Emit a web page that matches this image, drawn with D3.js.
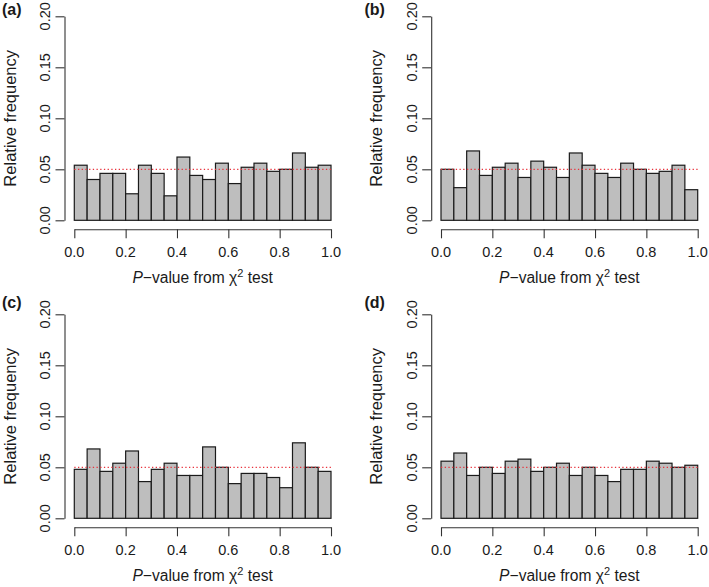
<!DOCTYPE html>
<html>
<head>
<meta charset="utf-8">
<script src="https://cdn.jsdelivr.net/npm/d3@7"></script>
<style>
  html, body { margin: 0; padding: 0; background: #fff; }
  svg { display: block; }
  text { font-family: "Liberation Sans", Arial, Helvetica, sans-serif; fill: #1a1a1a; }
</style>
</head>
<body>
<svg id="chart" width="709" height="587"></svg>
<script>
// ---- data ----
const panelLabels = ["(a)", "(b)", "(c)", "(d)"];
const binStarts = [0.00, 0.05, 0.10, 0.15, 0.20, 0.25, 0.30, 0.35, 0.40, 0.45,
                   0.50, 0.55, 0.60, 0.65, 0.70, 0.75, 0.80, 0.85, 0.90, 0.95];
const binWidth = 0.05;
const valuesA = [0.054, 0.040, 0.046, 0.046, 0.026, 0.054, 0.046, 0.024, 0.062, 0.044,
                 0.040, 0.056, 0.036, 0.052, 0.056, 0.048, 0.050, 0.066, 0.052, 0.054];
const valuesB = [0.050, 0.032, 0.068, 0.044, 0.052, 0.056, 0.042, 0.058, 0.052, 0.042,
                 0.066, 0.054, 0.046, 0.042, 0.056, 0.050, 0.046, 0.048, 0.054, 0.030];
const valuesC = [0.048, 0.068, 0.046, 0.054, 0.066, 0.036, 0.048, 0.054, 0.042, 0.042,
                 0.070, 0.050, 0.034, 0.044, 0.044, 0.040, 0.030, 0.074, 0.050, 0.046];
const valuesD = [0.056, 0.064, 0.042, 0.050, 0.044, 0.056, 0.058, 0.046, 0.050, 0.054,
                 0.042, 0.050, 0.042, 0.036, 0.048, 0.048, 0.056, 0.054, 0.050, 0.052];
const expectedValue = 0.05;
const xTicks = [0.0, 0.2, 0.4, 0.6, 0.8, 1.0];
const xTickLabels = ["0.0", "0.2", "0.4", "0.6", "0.8", "1.0"];
const yTicks = [0.00, 0.05, 0.10, 0.15, 0.20];
const yTickLabels = ["0.00", "0.05", "0.10", "0.15", "0.20"];
const yTitle = "Relative frequency";

// ---- layout ----
const allValues = [valuesA, valuesB, valuesC, valuesD];
const offsets = [[0, 0], [366.7, 0], [0, 298], [366.7, 298]];
const labelPos = [[2, 15], [364.5, 15], [2, 308], [364.5, 308]];

const svg = d3.select("#chart");

allValues.forEach((vals, i) => {
  const [dx, dy] = offsets[i];
  const g = svg.append("g").attr("transform", `translate(${dx},${dy})`);

  const x = d3.scaleLinear().domain([0, 1]).range([74.3, 331]);
  const y = d3.scaleLinear().domain([0, 0.2]).range([220.3, 16.3]);
  const yAxisX = 64.5;
  const xAxisY = 229.3;

  // bars
  g.selectAll("rect.bar")
    .data(vals.map((v, k) => ({ x0: binStarts[k], v })))
    .enter().append("rect")
    .attr("class", "bar")
    .attr("x", d => x(d.x0))
    .attr("width", d => x(d.x0 + binWidth) - x(d.x0))
    .attr("y", d => y(d.v))
    .attr("height", d => y(0) - y(d.v))
    .attr("fill", "#bebebe")
    .attr("stroke", "#1a1a1a")
    .attr("stroke-width", 1.2);

  // expected line
  g.append("line")
    .attr("x1", x(0)).attr("x2", x(1))
    .attr("y1", y(expectedValue)).attr("y2", y(expectedValue))
    .attr("stroke", "#e8323c")
    .attr("stroke-width", 1.2)
    .attr("stroke-dasharray", "1.3,2.4");

  // y axis
  const yAx = g.append("g")
    .attr("transform", `translate(${yAxisX},0)`)
    .call(d3.axisLeft(y).tickValues(yTicks).tickSize(9).tickSizeOuter(0).tickFormat(""));
  yAx.select(".domain").attr("stroke", "#333").attr("stroke-width", 1.1);
  yAx.selectAll(".tick line").attr("stroke", "#333").attr("stroke-width", 1.1);
  g.selectAll("text.ytick")
    .data(yTicks)
    .enter().append("text")
    .attr("class", "ytick")
    .attr("transform", (d) => `translate(50,${y(d)}) rotate(-90)`)
    .attr("text-anchor", "middle")
    .style("font-size", "14.5px")
    .text((d, k) => yTickLabels[k]);

  // x axis
  const xAx = g.append("g")
    .attr("transform", `translate(0,${xAxisY})`)
    .call(d3.axisBottom(x).tickValues(xTicks).tickSize(9).tickSizeOuter(0).tickFormat(""));
  xAx.select(".domain").attr("stroke", "#333").attr("stroke-width", 1.1);
  xAx.selectAll(".tick line").attr("stroke", "#333").attr("stroke-width", 1.1);
  g.selectAll("text.xtick")
    .data(xTicks)
    .enter().append("text")
    .attr("class", "xtick")
    .attr("x", d => x(d))
    .attr("y", 256.7)
    .attr("text-anchor", "middle")
    .style("font-size", "14.5px")
    .text((d, k) => xTickLabels[k]);

  // x title
  const xt = g.append("text")
    .attr("x", (x(0) + x(1)) / 2)
    .attr("y", 283)
    .attr("text-anchor", "middle")
    .style("font-size", "15.6px");
  xt.append("tspan").style("font-style", "italic").text("P");
  xt.append("tspan").text("\u2212value from \u03C7");
  xt.append("tspan").attr("dy", -6).style("font-size", "11px").text("2");
  xt.append("tspan").attr("dy", 6).text(" test");

  // y title
  g.append("text")
    .attr("transform", `translate(15.5,${(y(0) + y(0.2)) / 2}) rotate(-90)`)
    .attr("text-anchor", "middle")
    .style("font-size", "16.5px")
    .text(yTitle);

  // panel label
  svg.append("text")
    .attr("x", labelPos[i][0])
    .attr("y", labelPos[i][1])
    .style("font-size", "16px")
    .style("font-weight", "bold")
    .text(panelLabels[i]);
});
</script>
</body>
</html>
